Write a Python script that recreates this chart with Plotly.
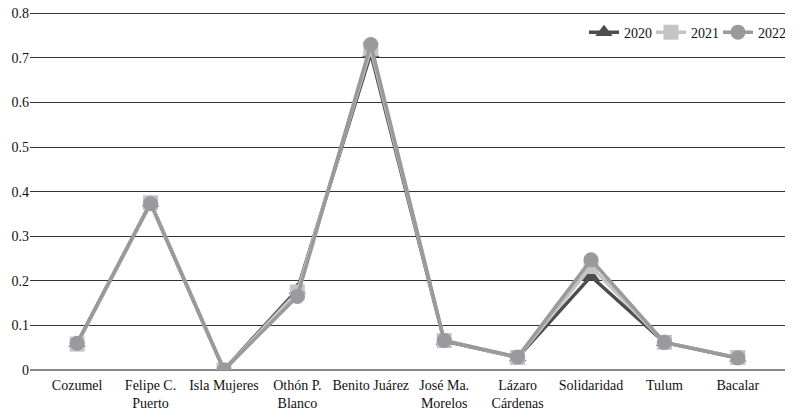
import plotly.graph_objects as go

MUNICIPIOS = [
    "Cozumel", "Felipe C.<br>Puerto", "Isla Mujeres", "Othón P.<br>Blanco",
    "Benito Juárez", "José Ma.<br>Morelos", "Lázaro<br>Cárdenas",
    "Solidaridad", "Tulum", "Bacalar",
]
Y2020 = [0.060, 0.375, 0.0, 0.180, 0.710, 0.065, 0.028, 0.210, 0.062, 0.027]
Y2021 = [0.058, 0.375, 0.0, 0.175, 0.720, 0.066, 0.028, 0.232, 0.062, 0.028]
Y2022 = [0.060, 0.373, 0.0, 0.165, 0.730, 0.066, 0.029, 0.247, 0.062, 0.027]
Y_TICKS = [0, 0.1, 0.2, 0.3, 0.4, 0.5, 0.6, 0.7, 0.8]

SERIES = [
    ("2020", Y2020, "#4d4d4d", "triangle-up"),
    ("2021", Y2021, "#c4c4c4", "square"),
    ("2022", Y2022, "#9a9a9e", "circle"),
]

SERIF = '"Liberation Serif", serif'

fig = go.Figure()
for name, ys, color, symbol in SERIES:
    fig.add_trace(go.Scatter(
        x=MUNICIPIOS, y=ys, name=name, mode="lines+markers",
        line=dict(color=color, width=3.5),
        marker=dict(symbol=symbol, size=15, color=color),
    ))

# page body has an 8px margin, so the figure is sized to fit inside it
fig.update_layout(
    width=784, height=403,
    paper_bgcolor="white", plot_bgcolor="white",
    margin=dict(l=22, r=7, t=3, b=41),
    font=dict(family=SERIF, size=14, color="#111"),
    showlegend=True,
    legend=dict(
        orientation="h", x=1.0, y=0.94, xanchor="right", yanchor="middle",
        bgcolor="rgba(0,0,0,0)", font=dict(family=SERIF, size=14),
        itemwidth=30, entrywidth=22, tracegroupgap=0,
    ),
    xaxis=dict(
        showgrid=False, showline=False, zeroline=False, automargin=False,
        ticks="", tickfont=dict(family=SERIF, size=14),
        ticklabelstandoff=5,
    ),
    yaxis=dict(
        range=[0, 0.805], tickvals=Y_TICKS, ticktext=[f"{v:g}" for v in Y_TICKS],
        showgrid=True, gridcolor="#333", gridwidth=1, automargin=False,
        zeroline=True, zerolinecolor="#888", zerolinewidth=1.5,
        showline=False, ticks="", tickfont=dict(family=SERIF, size=14),
        ticklabeloverflow="allow",
    ),
)

fig.write_html("out.html")
